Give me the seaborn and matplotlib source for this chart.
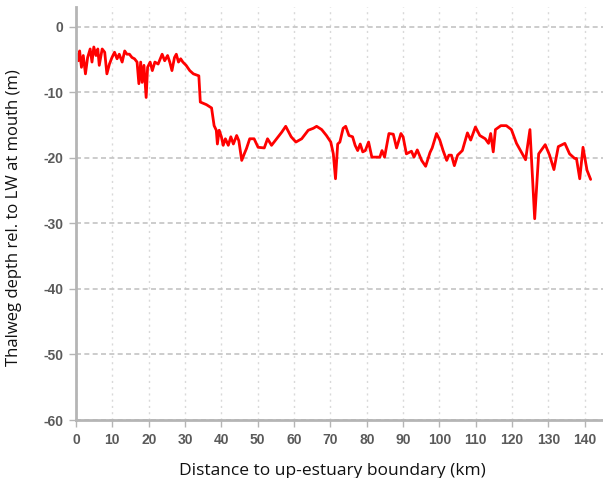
import matplotlib
matplotlib.use("Agg")
import matplotlib.pyplot as plt
import seaborn as sns
import pandas as pd

distance_km = [
    0.2, 0.6, 1.0, 1.5, 2.0, 2.6, 3.2, 3.9, 4.4, 4.9, 5.5, 6.0, 6.4, 7.2, 7.9, 8.5, 9.2, 9.9,
    10.6, 11.3, 11.9, 12.7, 13.4, 14.0, 14.7, 15.4, 16.1, 16.8, 17.3, 17.8, 18.2, 18.7, 19.3,
    19.7, 20.4, 21.0, 21.7, 22.6, 23.7, 24.4, 25.2, 25.8, 26.4, 27.1, 27.6, 28.2, 28.8, 29.4,
    30.3, 31.3, 32.3, 33.8, 34.2, 35.9, 37.3, 38.0, 38.6, 38.9, 39.4, 40.0, 40.5, 41.1, 41.9,
    42.6, 43.3, 44.2, 44.8, 45.6, 46.3, 46.9, 47.8, 49.0, 50.1, 51.8, 52.7, 53.8, 55.2, 56.6,
    57.7, 59.2, 60.5, 62.1, 63.9, 65.3, 66.2, 67.6, 68.9, 70.1, 70.8, 71.4, 72.0, 72.6, 73.5,
    74.2, 75.1, 76.1, 76.8, 77.5, 78.2, 78.9, 79.6, 80.5, 81.4, 83.6, 84.2, 84.9, 86.1, 87.3,
    88.2, 89.4, 90.0, 90.9, 92.3, 93.0, 93.9, 95.1, 96.2, 97.4, 98.0, 99.2, 100.1, 101.0,
    102.0, 102.6, 103.3, 104.1, 105.0, 106.3, 107.7, 108.6, 109.9, 111.1, 112.6, 113.5, 114.1,
    114.8, 115.4, 116.9, 118.4, 119.8, 121.2, 122.5, 123.7, 124.9, 126.2, 127.3, 129.1, 130.3,
    131.5, 132.7, 134.5, 135.8, 137.2, 137.7, 138.6, 139.5, 140.6, 141.6,
]
depth_m = [
    -4.2, -5.2, -3.7, -6.2, -4.4, -7.2, -4.7, -3.4, -5.4, -3.1, -4.4, -3.4, -5.9, -3.4, -3.9,
    -7.2, -5.7, -4.7, -3.9, -4.9, -4.2, -5.4, -3.7, -4.2, -4.2, -4.7, -4.9, -5.4, -8.7, -5.4,
    -8.5, -5.9, -10.8, -6.2, -5.4, -6.7, -5.4, -5.7, -4.2, -5.2, -4.4, -5.4, -6.7, -4.7, -4.2,
    -5.4, -4.9, -5.4, -5.9, -6.7, -7.2, -7.5, -11.5, -11.9, -12.4, -15.1, -15.8, -17.9, -15.8,
    -16.8, -18.1, -17.1, -18.1, -16.8, -17.9, -16.6, -17.4, -20.4, -19.4, -18.6, -17.1, -17.1,
    -18.4, -18.5, -17.1, -18.1, -17.1, -16.1, -15.2, -16.8, -17.6, -17.1, -15.8, -15.5, -15.2,
    -15.7, -16.6, -17.6, -19.4, -23.2, -17.9, -17.6, -15.5, -15.2, -16.6, -16.8, -18.1, -18.9,
    -17.9, -19.1, -18.9, -17.6, -19.9, -19.9, -18.9, -19.9, -16.3, -16.4, -18.5, -16.3, -16.8,
    -19.4, -19.0, -19.9, -18.8, -20.4, -21.3, -19.2, -18.5, -16.3, -17.3, -18.9, -20.4, -19.6,
    -19.6, -21.2, -19.6, -18.9, -16.2, -17.3, -15.3, -16.6, -17.1, -17.8, -16.3, -19.1, -15.7,
    -15.1, -15.1, -15.7, -17.8, -19.1, -20.3, -15.7, -29.3, -19.4, -18.0, -19.6, -21.8, -18.3,
    -17.8, -19.4, -20.1, -20.1, -23.2, -18.4, -21.9, -23.3,
]
x_ticks = list(range(0, 150, 10))
y_ticks = list(range(-60, 1, 10))

df = pd.DataFrame({"distance": distance_km, "depth": depth_m})

sns.set_theme(style="white")
plt.rcParams["font.family"] = ["Liberation Sans", "DejaVu Sans"]
plt.rcParams["axes.unicode_minus"] = False

fig = plt.figure(figsize=(6.03, 4.78), dpi=100)
ax = fig.add_axes([76 / 603, 1 - 420 / 478, 1 - 76 / 603, (420 - 7) / 478])

sns.lineplot(data=df, x="distance", y="depth", ax=ax, color="#ff0000",
             linewidth=2.0, estimator=None, sort=False)

ax.set_xlim(0, 145)
ax.set_ylim(-60, 3)
ax.set_xticks(x_ticks)
ax.set_yticks(y_ticks)

ax.xaxis.grid(True, linestyle=(0, (1.5, 3)), color="#d9d9d9", linewidth=1.0)
ax.yaxis.grid(True, linestyle=(0, (3, 2)), color="#c4c4c4", linewidth=1.2)
ax.set_axisbelow(True)

for side in ["top", "right"]:
    ax.spines[side].set_visible(False)
for side in ["left", "bottom"]:
    ax.spines[side].set_color("#b5b5b5")
    ax.spines[side].set_linewidth(2.0)

ax.tick_params(axis="both", which="major", direction="out", length=5, width=1,
               color="#b5b5b5", labelcolor="#5a5a5a", labelsize=10, pad=4)
ax.tick_params(axis="x", bottom=True)
ax.tick_params(axis="y", left=True)
for lbl in ax.get_xticklabels() + ax.get_yticklabels():
    lbl.set_fontweight("bold")

ax.set_xlabel("Distance to up-estuary boundary (km)", fontsize=12.5, color="#111111",
              family=["Open Sans", "DejaVu Sans"])
ax.set_ylabel("Thalweg depth rel. to LW at mouth (m)", fontsize=12, color="#111111",
              family=["Open Sans", "DejaVu Sans"])
ax.xaxis.set_label_coords(0.486, -0.105)
ax.yaxis.set_label_coords(-0.102, 0.489)

fig.savefig("out.png", dpi=100)
